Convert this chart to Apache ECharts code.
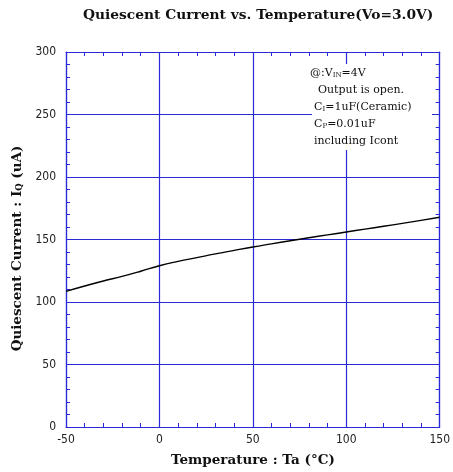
<!DOCTYPE html>
<html>
<head>
<meta charset="utf-8">
<script src="https://cdn.jsdelivr.net/npm/echarts@6/dist/echarts.min.js"></script>
<style>html,body{margin:0;padding:0;background:#fff}#c{width:453px;height:472px}</style>
</head>
<body>
<div id="c"></div>
<script>
const temperatures = [-50,-40,-30,-20,-10,0,10,20,30,40,50,60,70,80,90,100,110,120,130,140,150];
const currents = [108.5,112.8,116.8,120.5,124.6,129,132.5,135.5,138.5,141.3,144,146.5,149,151.4,153.7,156,158.3,160.6,162.9,165.3,167.8];
const xTicks = [-50,0,50,100,150];
const yTicks = [0,50,100,150,200,250,300];

const serif = "'DejaVu Serif','Liberation Serif',serif";
const narrow = "'Liberation Sans Narrow','DejaVu Sans Condensed','Liberation Sans',sans-serif";
const blue = '#2a2ad8';

const chart = echarts.init(document.getElementById('c'), null, {renderer:'canvas'});
const baseAxis = {
  axisLine:{show:true,onZero:false,lineStyle:{color:blue,width:1.2}},
  axisTick:{show:true,inside:true,length:4,lineStyle:{color:blue}},
  minorTick:{show:true,splitNumber:5,length:4,lineStyle:{color:blue}},
  splitLine:{show:false}
};
chart.setOption({
  animation:false,
  title:{text:'Quiescent Current vs. Temperature(Vo=3.0V)',left:78,top:3,
    textStyle:{fontFamily:serif,fontWeight:'bold',fontSize:13.8,color:'#111'}},
  grid:{left:66,right:9,top:52,bottom:44},
  xAxis:[
    Object.assign({},baseAxis,{type:'value',min:xTicks[0],max:xTicks[xTicks.length-1],interval:50,position:'bottom',
      splitLine:{show:true,lineStyle:{color:blue,width:1.2}},
      axisLabel:{fontFamily:narrow,fontSize:12,color:'#222',margin:7},
      name:'Temperature : Ta (°C)',nameLocation:'middle',nameGap:26,
      nameTextStyle:{fontFamily:serif,fontWeight:'bold',fontSize:13.5,color:'#111'}}),
    Object.assign({},baseAxis,{type:'value',min:-50,max:150,interval:50,position:'top',axisLabel:{show:false}})
  ],
  yAxis:[
    Object.assign({},baseAxis,{type:'value',min:yTicks[0],max:yTicks[yTicks.length-1],interval:50,position:'left',
      splitLine:{show:true,lineStyle:{color:blue,width:1.2}},
      axisLabel:{fontFamily:narrow,fontSize:12,color:'#222',margin:10},
      name:'{a|Quiescent Current : I}{s|Q}{a| (uA)}',nameLocation:'middle',nameGap:34,
      nameTextStyle:{padding:[0,18,0,0],rich:{
        a:{fontFamily:serif,fontWeight:'bold',fontSize:13.5,color:'#111'},
        s:{fontFamily:serif,fontWeight:'bold',fontSize:8.5,color:'#111',verticalAlign:'bottom',lineHeight:10}
      }}}),
    Object.assign({},baseAxis,{type:'value',min:0,max:300,interval:50,position:'right',axisLabel:{show:false}})
  ],
  graphic:[
    {type:'rect',shape:{x:312,y:64,width:120,height:86},style:{fill:'#fff'},z:10},
    {type:'text',x:310,y:73,z:11,style:{text:'{a|@:V}{s|IN}{a|=4V}',verticalAlign:'middle',
      rich:{a:{fontFamily:serif,fontSize:11,fill:'#111'},s:{fontFamily:serif,fontSize:7,fill:'#111',verticalAlign:'bottom'}}}},
    {type:'text',x:318,y:90,z:11,style:{text:'Output is open.',verticalAlign:'middle',fontFamily:serif,fontSize:11,fill:'#111'}},
    {type:'text',x:314,y:107,z:11,style:{text:'{a|C}{s|I}{a|=1uF(Ceramic)}',verticalAlign:'middle',
      rich:{a:{fontFamily:serif,fontSize:11,fill:'#111'},s:{fontFamily:serif,fontSize:7,fill:'#111',verticalAlign:'bottom'}}}},
    {type:'text',x:314,y:124,z:11,style:{text:'{a|C}{s|P}{a|=0.01uF}',verticalAlign:'middle',
      rich:{a:{fontFamily:serif,fontSize:11,fill:'#111'},s:{fontFamily:serif,fontSize:7,fill:'#111',verticalAlign:'bottom'}}}},
    {type:'text',x:314,y:141,z:11,style:{text:'including Icont',verticalAlign:'middle',fontFamily:serif,fontSize:11,fill:'#111'}}
  ],
  series:[{
    type:'line',xAxisIndex:0,yAxisIndex:0,smooth:true,showSymbol:false,
    data:temperatures.map((t,i)=>[t,currents[i]]),
    lineStyle:{color:'#000',width:1.4},z:5
  }]
});
</script>
</body>
</html>
